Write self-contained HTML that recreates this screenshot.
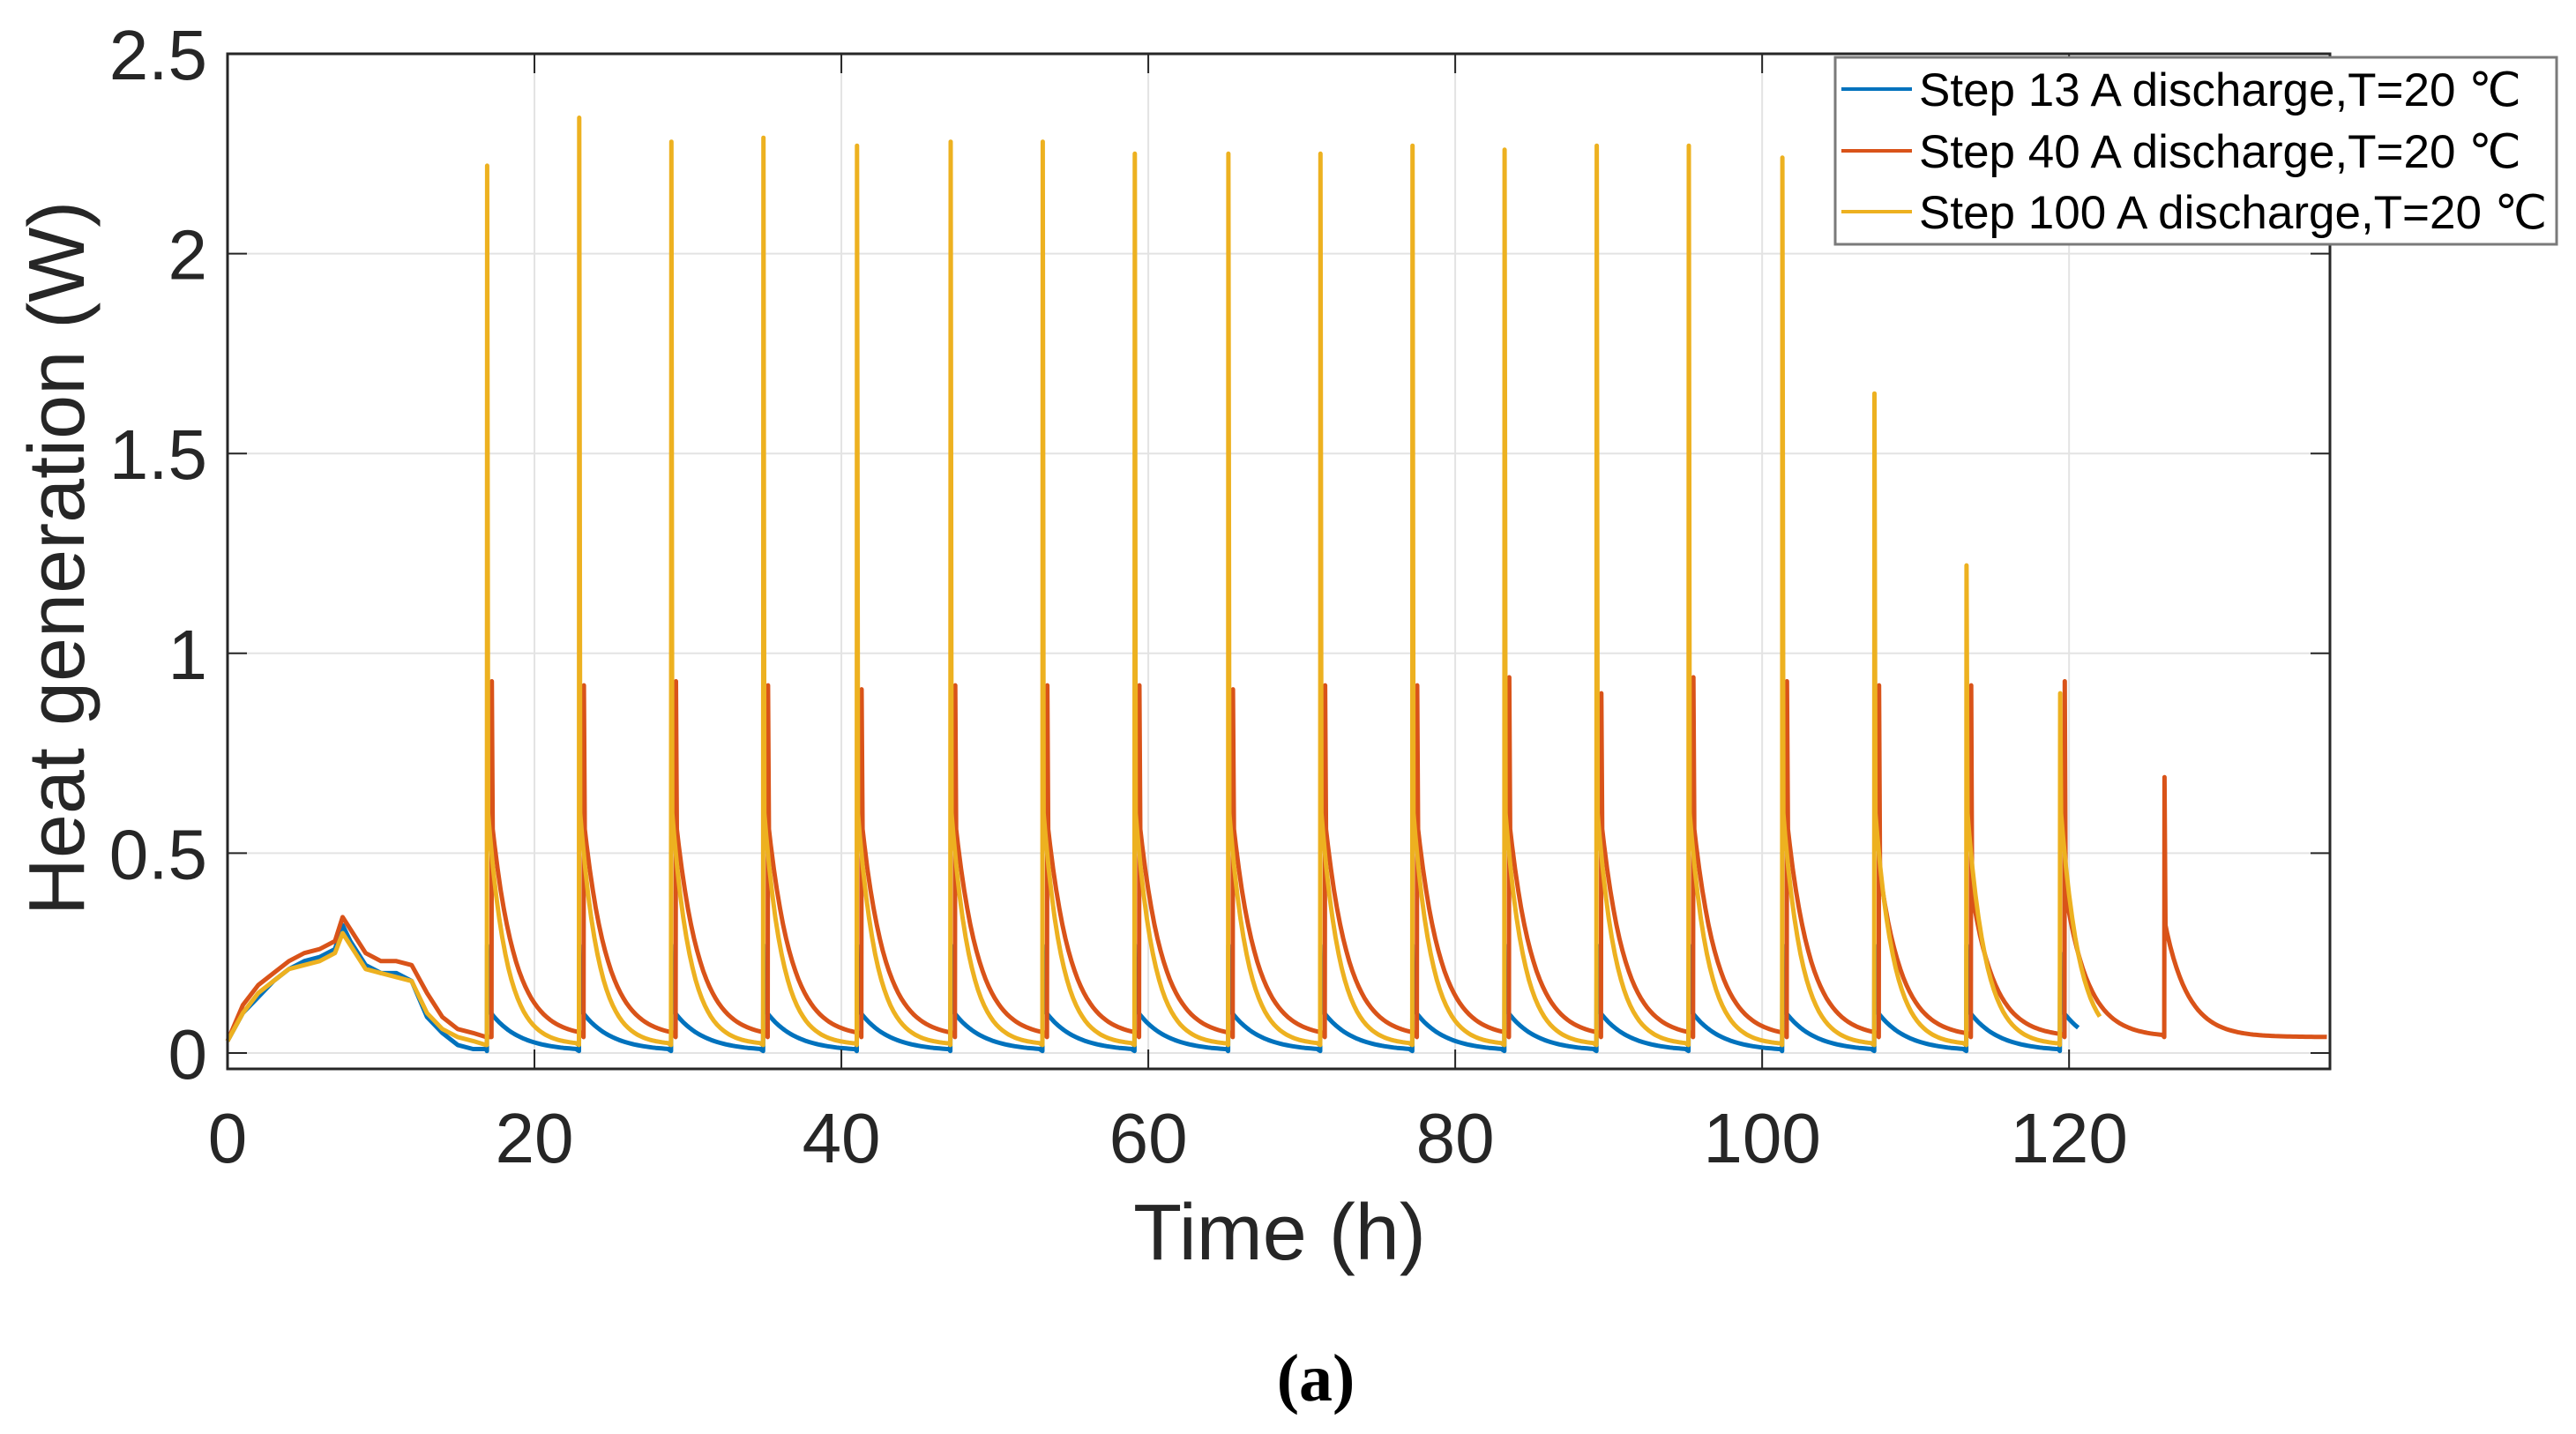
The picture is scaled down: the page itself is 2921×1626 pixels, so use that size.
<!DOCTYPE html>
<html><head><meta charset="utf-8"><style>
html,body{margin:0;padding:0;background:#fff;}
svg{display:block;font-family:"Liberation Sans",Arial,sans-serif;}
</style></head><body>
<svg id="chart" width="2921" height="1626" viewBox="0 0 2921 1626" xmlns="http://www.w3.org/2000/svg">
<rect x="0" y="0" width="2921" height="1626" fill="#fff"/>
<g id="grid"></g>
<g id="series"></g>
<g id="axes"></g>
<text x="1451" y="1428" font-size="90" text-anchor="middle" fill="#262626">Time (h)</text>
<text transform="translate(95,633) rotate(-90)" font-size="90" text-anchor="middle" fill="#262626">Heat generation (W)</text>
<text x="1492" y="1588" font-size="76" font-weight="bold" text-anchor="middle" font-family="Liberation Serif, serif" fill="#000">(a)</text>
<g>
<rect x="2081" y="65" width="818" height="212" fill="#fff" stroke="#7a7a7a" stroke-width="3"/>
<line x1="2088" y1="101" x2="2168" y2="101" stroke="#0072BD" stroke-width="4"/>
<text x="2176" y="120" font-size="53" fill="#000">Step 13 A discharge,T=20 ℃</text>
<line x1="2088" y1="171" x2="2168" y2="171" stroke="#D95319" stroke-width="4"/>
<text x="2176" y="190" font-size="53" fill="#000">Step 40 A discharge,T=20 ℃</text>
<line x1="2088" y1="240" x2="2168" y2="240" stroke="#EDB120" stroke-width="4"/>
<text x="2176" y="259" font-size="53" fill="#000">Step 100 A discharge,T=20 ℃</text>
</g>
</svg>
<script>
const xTicks=[0,20,40,60,80,100,120];
const yTicks=[0,0.5,1,1.5,2,2.5];
const yTickLabels=["0","0.5","1","1.5","2","2.5"];
const pulseTimes=[16.9,22.9,28.9,34.9,41.0,47.1,53.1,59.1,65.2,71.2,77.2,83.2,89.2,95.2,101.3,107.3,113.3,119.4];
const yellowPeaks=[2.22,2.34,2.28,2.29,2.27,2.28,2.28,2.25,2.25,2.25,2.27,2.26,2.27,2.27,2.24,1.65,1.22,0.90];
const orangePeaks=[0.93,0.92,0.93,0.92,0.91,0.92,0.92,0.92,0.91,0.92,0.92,0.94,0.90,0.94,0.93,0.92,0.92,0.93];
const orangeAfter=[0.56,0.56,0.56,0.56,0.56,0.56,0.56,0.56,0.56,0.56,0.56,0.56,0.56,0.56,0.56,0.45,0.4,0.4,0.32];
const orangeExtraTime=[125.9];
const orangeExtraPeak=[0.69];
const bluePeaks=[0.27,0.27,0.27,0.27,0.27,0.27,0.27,0.27,0.27,0.27,0.27,0.27,0.27,0.27,0.27,0.27,0.27,0.25];
const humpTimes=[0,1,2,3,4,5,6,7,7.5,8,9,10,11,12,13,14,15,16,16.85];
const humpOrange=[0.03,0.12,0.17,0.2,0.23,0.25,0.26,0.28,0.34,0.31,0.25,0.23,0.23,0.22,0.15,0.09,0.06,0.05,0.04];
const humpYellow=[0.03,0.1,0.15,0.18,0.21,0.22,0.23,0.25,0.3,0.27,0.21,0.2,0.19,0.18,0.1,0.06,0.04,0.03,0.02];
const humpBlue=[0.03,0.1,0.14,0.18,0.21,0.23,0.24,0.26,0.32,0.28,0.22,0.2,0.2,0.18,0.09,0.05,0.02,0.01,0.01];
const endTimes=[120.8,137,122.2];

const L=258,R=2642,T=61,B=1212,XMAX=137,Y0=1194,YPER=453.2;
const X=t=>L+t*(R-L)/XMAX;
const Y=v=>Y0-v*YPER;
const NS="http://www.w3.org/2000/svg";
function mk(tag,attrs,parent){const e=document.createElementNS(NS,tag);for(const k in attrs)e.setAttribute(k,attrs[k]);parent.appendChild(e);return e;}
const grid=document.getElementById('grid'),axes=document.getElementById('axes'),ser=document.getElementById('series');
xTicks.forEach(t=>{
  const g=mk('line',{x1:X(t),x2:X(t),y1:T,y2:B,stroke:'#e3e3e3','stroke-width':2},grid);
  
  
  const tk=mk('line',{x1:X(t),x2:X(t),y1:B,y2:B-22,stroke:'#262626','stroke-width':2},axes);
  
  
  const tk2=mk('line',{x1:X(t),x2:X(t),y1:T,y2:T+22,stroke:'#262626','stroke-width':2},axes);
  
  
  const lb=mk('text',{x:X(t),y:1318,'font-size':80,'text-anchor':'middle',fill:'#262626'},axes);
  lb.textContent=String(t);
  
  
});
yTicks.forEach((v,i)=>{
  const g=mk('line',{x1:L,x2:R,y1:Y(v),y2:Y(v),stroke:'#e3e3e3','stroke-width':2},grid);
  
  
  const tk=mk('line',{x1:L,x2:L+22,y1:Y(v),y2:Y(v),stroke:'#262626','stroke-width':2},axes);
  
  
  const tk2=mk('line',{x1:R,x2:R-22,y1:Y(v),y2:Y(v),stroke:'#262626','stroke-width':2},axes);
  
  
  const lb=mk('text',{x:235,y:Y(v)+29,'font-size':80,'text-anchor':'end',fill:'#262626'},axes);
  lb.textContent=yTickLabels[i];
  
  
});
const box=mk('rect',{x:L,y:T,width:R-L,height:B-T,fill:'none',stroke:'#262626','stroke-width':3},axes);



function build(hump,times,peaks,dt,after,base,tau,end){
  const pts=[];
  for(let i=0;i<humpTimes.length;i++)pts.push([humpTimes[i],hump[i]]);
  for(let i=0;i<times.length;i++){
    const t0=times[i]+dt;
    const a=Array.isArray(after)?after[i]:after;
    const next=i+1<times.length?times[i+1]+dt:end;
    pts.push([t0,base]);pts.push([t0+0.02,peaks[i]]);pts.push([t0+0.08,a]);
    for(let t=t0+0.2;t<next-0.02;t+=0.2){pts.push([t,base+(a-base)*Math.exp(-(t-t0-0.08)/tau)]);}
  }
  return pts;
}
function draw(pts,color,name){
  const d=pts.map((p,i)=>(i?'L':'M')+X(p[0]).toFixed(1)+' '+Y(p[1]).toFixed(1)).join(' ');
  const p=mk('path',{d:d,fill:'none',stroke:color,'stroke-width':5,'stroke-linejoin':'round'},ser);
  
  
}
const blue=build(humpBlue,pulseTimes,bluePeaks,0,0.11,0.005,1.9,endTimes[0]);
const oT=pulseTimes.concat(orangeExtraTime),oP=orangePeaks.concat(orangeExtraPeak);
const orange=build(humpOrange,oT,oP,0.3,orangeAfter,0.04,1.5,endTimes[1]);
const yellow=build(humpYellow,pulseTimes,yellowPeaks,0,0.6,0.02,1.2,endTimes[2]);
draw(blue,'#0072BD','series-13a');
draw(orange,'#D95319','series-40a');
draw(yellow,'#EDB120','series-100a');
</script>
</body></html>
